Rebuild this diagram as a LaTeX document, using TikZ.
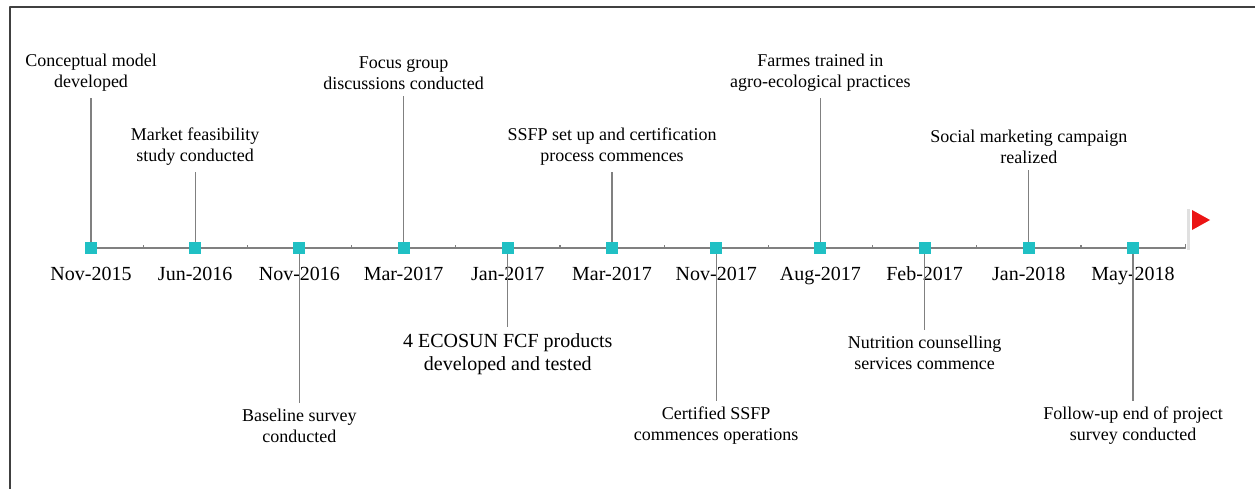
\documentclass[tikz,border=0pt]{standalone}
\usepackage{fontspec}
\setmainfont{Liberation Serif}
\definecolor{teal1}{RGB}{32,192,196}
\definecolor{grayln}{RGB}{128,128,128}
\definecolor{flagred}{RGB}{235,20,20}
\tikzset{
  sq/.style={minimum size=12pt, inner sep=0pt, fill=teal1},
  dlbl/.style={anchor=base, font=\fontsize{20}{24}\selectfont},
  lbl/.style={align=center, inner sep=6pt},
  conn/.style={draw=grayln, line width=1.3pt},
  axisln/.style={draw=grayln, line width=1.2pt}
}
\begin{document}
\begin{tikzpicture}[x=1pt, y=-1pt, line join=round, line cap=butt]
  \useasboundingbox (0,0) rectangle (1255,489);
  \def\xo{91} \def\dx{104.2} \def\ya{248} % first marker, spacing, axis height
  \draw[line width=2pt, black!75] (10,489) |- (1255,7);
  % axis with half-step ticks
  \coordinate (axend) at ({\xo+10.5*\dx},\ya);
  \draw[axisln] (\xo,\ya) -- (axend) -- ++(0,-4);
  \foreach \k in {0,...,9} \draw[axisln] ({\xo+(\k+0.5)*\dx},\ya) -- ++(0,-3);
  % flag
  \fill[black!12] (1186.5,209) rectangle (1190,250);
  \fill[flagred] (1192,210) -- (1192,230) -- (1210,220) -- cycle;
  % events: index/date/label centre/font size/baselineskip/text
  \foreach \i/\dt/\ty/\fz/\bs/\txt in {
      1/Nov-2015/73/18/21/{Conceptual model\\developed},
      2/Jun-2016/147/18/21/{Market feasibility\\study conducted},
      3/Nov-2016/426/18/21/{Baseline survey\\conducted},
      4/Mar-2017/73/18/21/{Focus group\\discussions conducted},
      5/Jan-2017/354/20/23/{4 ECOSUN FCF products\\developed and tested},
      6/Mar-2017/147/18/21/{SSFP set up and certification\\process commences},
      7/Nov-2017/426/18/21/{Certified SSFP\\commences operations},
      8/Aug-2017/73/18/21/{Farmes trained in\\agro-ecological practices},
      9/Feb-2017/353/18/21/{Nutrition counselling\\services commence},
      10/Jan-2018/147/18/21/{Social marketing campaign\\realized},
      11/May-2018/426/18/21/{Follow-up end of project\\survey conducted}}{
    \node[sq] (m\i) at ({\xo+(\i-1)*\dx},\ya) {};
    \node[dlbl] (d\i) at ({\xo+(\i-1)*\dx},280) {\dt};
    \node[lbl, font=\fontsize{\fz}{\bs}\selectfont] (e\i) at ({\xo+(\i-1)*\dx},\ty) {\txt};
    \draw[conn] (m\i) -- (e\i);
    \node[sq] at (m\i) {};
  }
\end{tikzpicture}
\end{document}
